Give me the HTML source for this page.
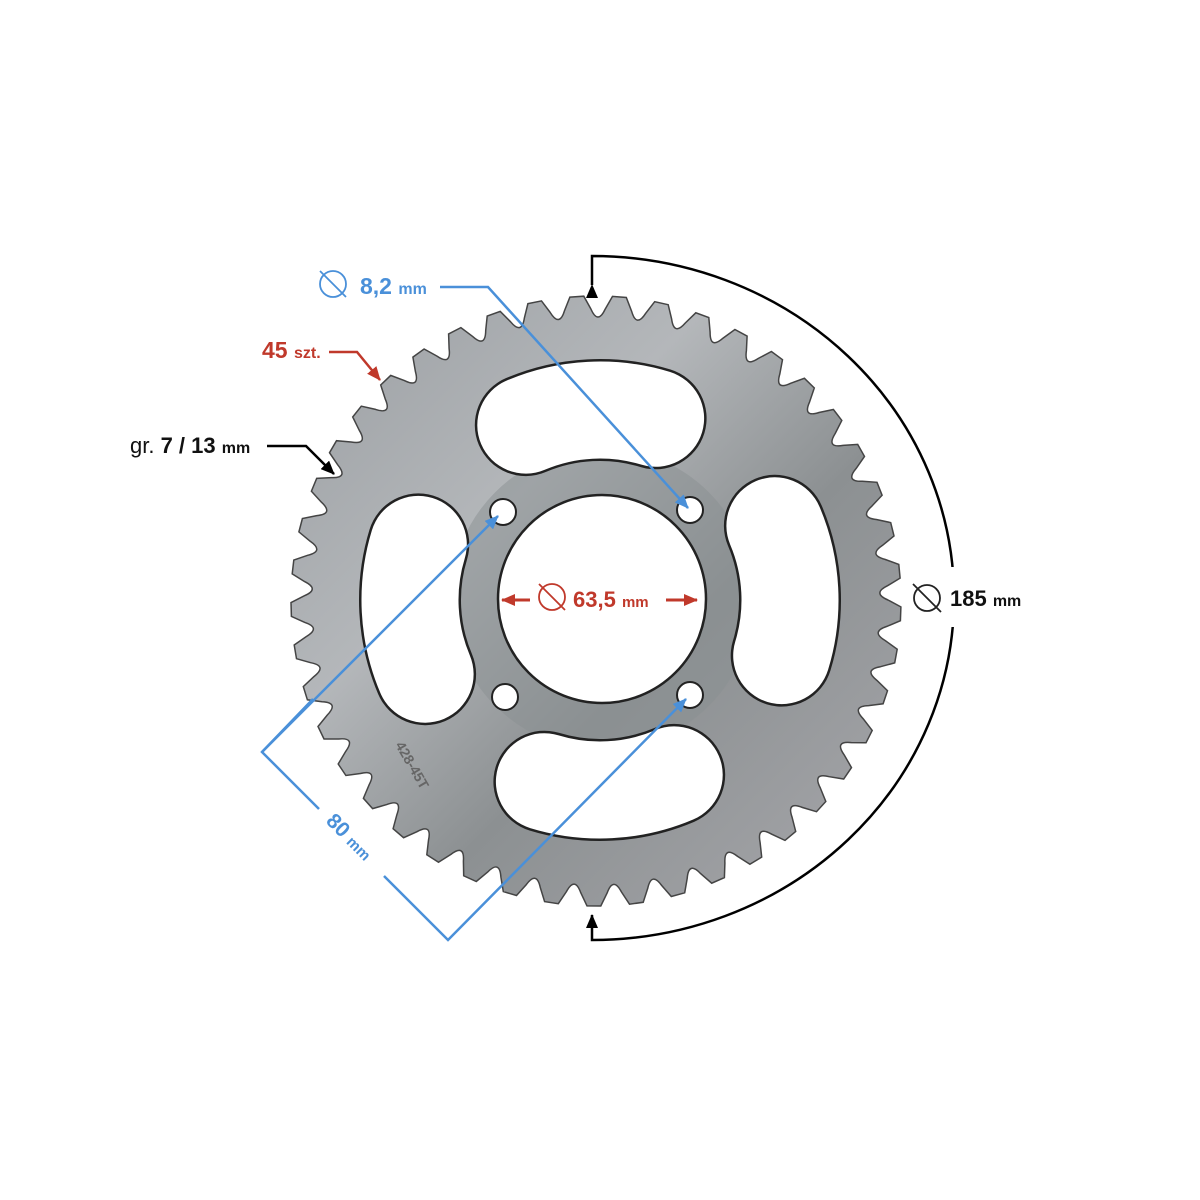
<!DOCTYPE html>
<html><head><meta charset="utf-8"><style>
html,body{margin:0;padding:0;background:#fff;}
svg{display:block}
text{font-family:"Liberation Sans",Arial,sans-serif;font-weight:bold}
</style></head><body>
<svg id="s" width="1200" height="1200" viewBox="0 0 1200 1200" xmlns="http://www.w3.org/2000/svg">
<defs>
<linearGradient id="g" x1="0" y1="0" x2="1" y2="1">
<stop offset="0" stop-color="#9a9ea2"/>
<stop offset="0.35" stop-color="#b4b7ba"/>
<stop offset="0.6" stop-color="#8c9092"/>
<stop offset="1" stop-color="#a8a8ac"/>
</linearGradient>
<marker id="ab" markerWidth="14" markerHeight="12" refX="13" refY="6" orient="auto" markerUnits="userSpaceOnUse"><path d="M0,0 L14,6 L0,12 z" fill="#000"/></marker>
<marker id="ar" markerWidth="14" markerHeight="12" refX="13" refY="6" orient="auto" markerUnits="userSpaceOnUse"><path d="M0,0 L14,6 L0,12 z" fill="#c0392b"/></marker>
<marker id="abl" markerWidth="14" markerHeight="12" refX="13" refY="6" orient="auto" markerUnits="userSpaceOnUse"><path d="M0,0 L14,6 L0,12 z" fill="#4a90d9"/></marker>
</defs>
<path id="gear" fill="url(#g)" stroke="#444" stroke-width="1.5" d=""/>
<circle cx="602" cy="599" r="128" fill="none" stroke="#8a8f92" stroke-width="46" opacity="0.5"/>
<g id="wins"></g>
<circle cx="602" cy="599" r="104" fill="#fff" stroke="#222" stroke-width="2.5"/>
<g fill="#fff" stroke="#222" stroke-width="2">
<circle cx="503" cy="512" r="13"/><circle cx="690" cy="510" r="13"/>
<circle cx="505" cy="697" r="13"/><circle cx="690" cy="695" r="13"/>
</g>
<text x="0" y="0" transform="translate(395,745) rotate(60)" font-size="14" fill="#666" font-weight="normal">428-45T</text>

<path d="M592,285 L592,256 A362,342 0 0 1 592,940 L592,915" fill="none" stroke="#000" stroke-width="2.5" marker-start="url(#ab)" marker-end="url(#ab)"/>
<rect x="905" y="567" width="130" height="60" fill="#fff"/>
<circle cx="927" cy="598" r="13" fill="none" stroke="#222" stroke-width="1.8"/>
<line x1="913" y1="584" x2="941" y2="612" stroke="#222" stroke-width="1.8"/>
<text x="950" y="606" font-size="22" fill="#111">185 <tspan font-size="16">mm</tspan></text>

<circle cx="333" cy="284" r="13" fill="none" stroke="#4a90d9" stroke-width="1.8"/>
<line x1="320" y1="271" x2="346" y2="297" stroke="#4a90d9" stroke-width="1.8"/>
<text x="360" y="294" font-size="23" fill="#4a90d9">8,2 <tspan font-size="16">mm</tspan></text>
<polyline points="440,287 488,287 688,508" fill="none" stroke="#4a90d9" stroke-width="2.5" marker-end="url(#abl)"/>

<text x="262" y="358" font-size="23" fill="#c0392b">45 <tspan font-size="16">szt.</tspan></text>
<polyline points="329,352 357,352 380,380" fill="none" stroke="#c0392b" stroke-width="2.5" marker-end="url(#ar)"/>

<text x="130" y="453" font-size="22" fill="#111"><tspan font-weight="normal">gr.</tspan> 7 / 13 <tspan font-size="16">mm</tspan></text>
<polyline points="267,446 306,446 334,474" fill="none" stroke="#000" stroke-width="2.5" marker-end="url(#ab)"/>

<line x1="530" y1="600" x2="502" y2="600" stroke="#c0392b" stroke-width="3" marker-end="url(#ar)"/>
<line x1="666" y1="600" x2="697" y2="600" stroke="#c0392b" stroke-width="3" marker-end="url(#ar)"/>
<circle cx="552" cy="597" r="13" fill="none" stroke="#c0392b" stroke-width="1.8"/>
<line x1="539" y1="584" x2="565" y2="610" stroke="#c0392b" stroke-width="1.8"/>
<text x="573" y="607" font-size="22" fill="#c0392b">63,5 <tspan font-size="15">mm</tspan></text>

<polyline points="313,699 262,752 319,809" fill="none" stroke="#4a90d9" stroke-width="2.5"/>
<line x1="262" y1="752" x2="498" y2="516" stroke="#4a90d9" stroke-width="2.5" marker-end="url(#abl)"/>
<polyline points="384,876 448,940 686,699" fill="none" stroke="#4a90d9" stroke-width="2.5" marker-end="url(#abl)"/>
<text transform="translate(325,822) rotate(45)" font-size="21" fill="#4a90d9">80 <tspan font-size="15">mm</tspan></text>
</svg>
<script>
(function(){
var cx=596,cy=601,d="",n=45,a0=-3.6;
function P(a,r,x0,y0){x0=x0||cx;y0=y0||cy;var t=(a-90)*Math.PI/180;return (x0+r*Math.cos(t)).toFixed(1)+","+(y0+r*Math.sin(t)).toFixed(1);}
var st=360/n;
for(var i=0;i<n;i++){var a=a0+i*st;
d+=(i==0?"M":"L")+P(a-1.3,305)+" L"+P(a+1.3,305)+" L"+P(a+2.6,292)+" Q"+P(a+st/2,276)+" "+P(a+st-2.6,292);}
d+="Z";
document.getElementById("gear").setAttribute("d",d);
var w=document.getElementById("wins"),ns="http://www.w3.org/2000/svg";
var hx=600,hy=600,R=190,h=20;
[-3,87,177,267].forEach(function(c){
var p="M"+P(c-h,R,hx,hy)+" A"+R+","+R+" 0 0 1 "+P(c+h,R,hx,hy);
[["#222",102],["#fff",97]].forEach(function(s){
var e=document.createElementNS(ns,"path");e.setAttribute("d",p);e.setAttribute("fill","none");
e.setAttribute("stroke",s[0]);e.setAttribute("stroke-width",s[1]);e.setAttribute("stroke-linecap","round");w.appendChild(e);});
});
})();
</script>
</body></html>
